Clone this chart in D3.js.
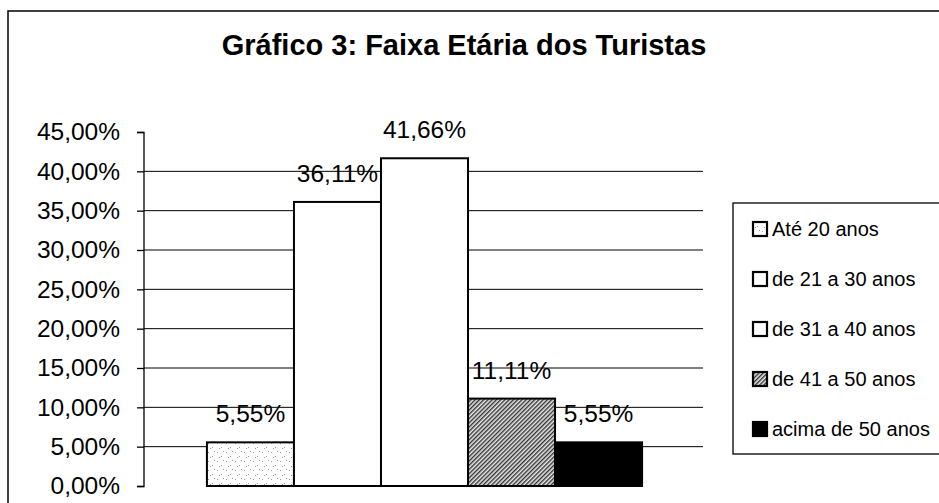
<!DOCTYPE html>
<html><head><meta charset="utf-8">
<script src="https://cdn.jsdelivr.net/npm/d3@7"></script>
<style>body{margin:0;background:#fff}svg{display:block}text{font-family:"Liberation Sans",Arial,sans-serif;fill:#000}</style>
</head><body><svg id="c" width="939" height="503"></svg>
<script>
const title = "Gráfico 3: Faixa Etária dos Turistas";
const series = ["Até 20 anos","de 21 a 30 anos","de 31 a 40 anos","de 41 a 50 anos","acima de 50 anos"];
const values = [5.55, 36.11, 41.66, 11.11, 5.55];
const labels = ["5,55%","36,11%","41,66%","11,11%","5,55%"];
const yTicks = [0,5,10,15,20,25,30,35,40,45];
const fills = ["url(#dots)","#fff","#fff","url(#hatch)","#000"];

const svg = d3.select("#c");
const defs = svg.append("defs");
const dp = defs.append("pattern").attr("id","dots").attr("patternUnits","userSpaceOnUse").attr("width",9).attr("height",9);
dp.append("rect").attr("width",9).attr("height",9).attr("fill","#fff");
[[1,2],[5,6],[7,1],[3,7]].forEach(([x,y])=>dp.append("rect").attr("x",x).attr("y",y).attr("width",1).attr("height",1).attr("fill","#999"));
const hp = defs.append("pattern").attr("id","hatch").attr("patternUnits","userSpaceOnUse").attr("width",3).attr("height",3).attr("patternTransform","rotate(45)");
hp.append("rect").attr("width",3).attr("height",3).attr("fill","#e8e8e8");
hp.append("rect").attr("width",1.4).attr("height",3).attr("fill","#333");

// outer frame
svg.append("rect").attr("x",8).attr("y",11).attr("width",1200).attr("height",1200).attr("fill","none").attr("stroke","#000").attr("stroke-width",1.5);

svg.append("text").attr("x",464).attr("y",55).attr("text-anchor","middle")
  .style("font-size","29px").style("font-weight","bold").text(title);

const y = d3.scaleLinear().domain([0,45]).range([486,132]);
const x = d3.scaleBand().domain(series).range([146,703]).paddingInner(0).paddingOuter(0.70);

// gridlines
svg.append("g").selectAll("line").data(yTicks.filter(d=>d>0&&d<45)).join("line")
  .attr("x1",144).attr("x2",703).attr("y1",d=>y(d)).attr("y2",d=>y(d)).attr("stroke","#000").attr("stroke-width",1);

const ax = svg.append("g").attr("transform","translate(144,0)")
  .call(d3.axisLeft(y).tickValues(yTicks).tickSize(7).tickPadding(17).tickFormat(d=>d3.format(".2f")(d).replace(".",",")+"%"));
ax.selectAll("path,line").attr("stroke","#000").attr("stroke-width",1.3);
ax.select(".domain").attr("d","M-7,132.5H0V486.5H-7");
ax.selectAll("text").style("font-size","24.5px").style("font-family","Liberation Sans, Arial, sans-serif").attr("fill","#000");

svg.append("g").selectAll("rect").data(values).join("rect")
  .attr("x",(d,i)=>x(series[i])).attr("width",x.bandwidth())
  .attr("y",d=>y(d)).attr("height",d=>y(0)-y(d))
  .attr("fill",(d,i)=>fills[i]).attr("stroke","#000").attr("stroke-width",2);

svg.append("g").selectAll("text").data(values).join("text")
  .attr("x",(d,i)=>x(series[i])+x.bandwidth()/2).attr("y",d=>y(d)-20)
  .attr("text-anchor","middle").style("font-size","24.5px").text((d,i)=>labels[i]);

// legend
const lg = svg.append("g");
lg.append("rect").attr("x",733).attr("y",203).attr("width",300).attr("height",251).attr("fill","#fff").attr("stroke","#000").attr("stroke-width",1.3);
const li = lg.selectAll("g.it").data(series).join("g").attr("class","it")
  .attr("transform",(d,i)=>`translate(752,${229+i*50})`);
li.append("rect").attr("x",1).attr("y",-7).attr("width",14).attr("height",14)
  .attr("fill",(d,i)=>fills[i]).attr("stroke","#000").attr("stroke-width",2.2);
li.append("text").attr("x",20).attr("y",7).style("font-size","20px").text(d=>d);
</script></body></html>
